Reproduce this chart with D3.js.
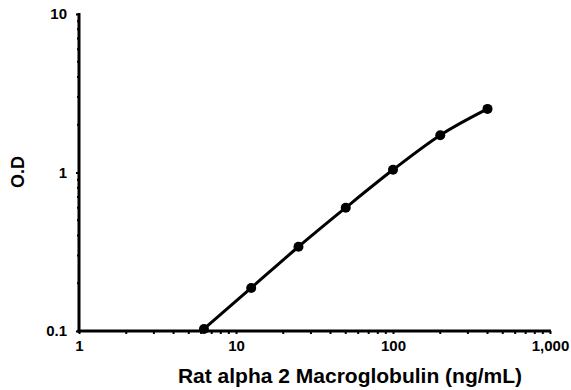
<!DOCTYPE html>
<html><head><meta charset="utf-8">
<script src="https://cdn.jsdelivr.net/npm/d3@7"></script>
<style>body{margin:0;background:#fff}svg{display:block}text{font-family:"Liberation Sans",Arial,sans-serif;font-weight:bold;fill:#000}</style>
</head><body><svg id="c" width="571" height="390"></svg>
<script>
const concentrations = [6.25, 12.5, 25, 50, 100, 200, 400];
const odValues = [0.103, 0.187, 0.34, 0.60, 1.04, 1.72, 2.52];
const xTickValues = [1, 10, 100, 1000];
const xTickLabels = ["1", "10", "100", "1,000"];
const yTickValues = [0.1, 1, 10];
const yTickLabels = ["0.1", "1", "10"];
const xTitle = "Rat alpha 2 Macroglobulin (ng/mL)";
const yTitle = "O.D";

const svg = d3.select("#c");
const x = d3.scaleLog().domain([1, 1000]).range([79, 550]);
const y = d3.scaleLog().domain([0.1, 10]).range([331, 14]);

const xMinor = [];
for (let d = 1; d < 1000; d *= 10) for (let k = 2; k <= 9; k++) xMinor.push(d * k);
const yMinor = [];
for (let d = 0.1; d < 9; d *= 10) for (let k = 2; k <= 9; k++) yMinor.push(d * k);

const xAxis = svg.append("g").attr("transform", "translate(0,331)")
  .call(d3.axisBottom(x).tickValues(xTickValues).tickFormat((d, i) => xTickLabels[i]).tickSizeOuter(0).tickSize(3).tickPadding(6));
xAxis.attr("font-size", 15).attr("font-family", "Liberation Sans, Arial, sans-serif").attr("font-weight", "bold");
xAxis.select(".domain").attr("stroke-width", 3).attr("d", `M${x(1)-1.5},0H${x(1000)+1}`);
xAxis.selectAll(".tick line").attr("stroke-width", 2);
xAxis.selectAll(".minor").data(xMinor).enter().append("line").attr("class", "minor")
  .attr("x1", d => x(d)).attr("x2", d => x(d)).attr("y1", 0).attr("y2", 3).attr("stroke", "#000").attr("stroke-width", 2);

const yAxis = svg.append("g").attr("transform", "translate(79,0)")
  .call(d3.axisLeft(y).tickValues(yTickValues).tickFormat((d, i) => yTickLabels[i]).tickSizeOuter(0).tickSize(3).tickPadding(9));
yAxis.attr("font-size", 15).attr("font-family", "Liberation Sans, Arial, sans-serif").attr("font-weight", "bold");
yAxis.select(".domain").attr("stroke-width", 3).attr("d", `M0,${y(10)-1}V${y(0.1)+1.5}`);
yAxis.selectAll(".tick line").attr("stroke-width", 2);
yAxis.selectAll(".minor").data(yMinor).enter().append("line").attr("class", "minor")
  .attr("y1", d => y(d)).attr("y2", d => y(d)).attr("x1", 0).attr("x2", -2).attr("stroke", "#000").attr("stroke-width", 2);

const pts = concentrations.map((c, i) => [c, odValues[i]]);
const line = d3.line().x(d => x(d[0])).y(d => y(d[1])).curve(d3.curveMonotoneX);
svg.append("path").datum(pts).attr("d", line).attr("fill", "none").attr("stroke", "#000").attr("stroke-width", 3);
svg.selectAll(".pt").data(pts).enter().append("circle").attr("class", "pt")
  .attr("cx", d => x(d[0])).attr("cy", d => y(d[1])).attr("r", 5).attr("fill", "#000");

svg.append("text").attr("x", 350).attr("y", 383).attr("text-anchor", "middle").style("font-size", "21px").text(xTitle);
svg.append("text").attr("transform", "translate(24,172) rotate(-90)").attr("text-anchor", "middle").style("font-size", "18px").text(yTitle);
</script></body></html>
